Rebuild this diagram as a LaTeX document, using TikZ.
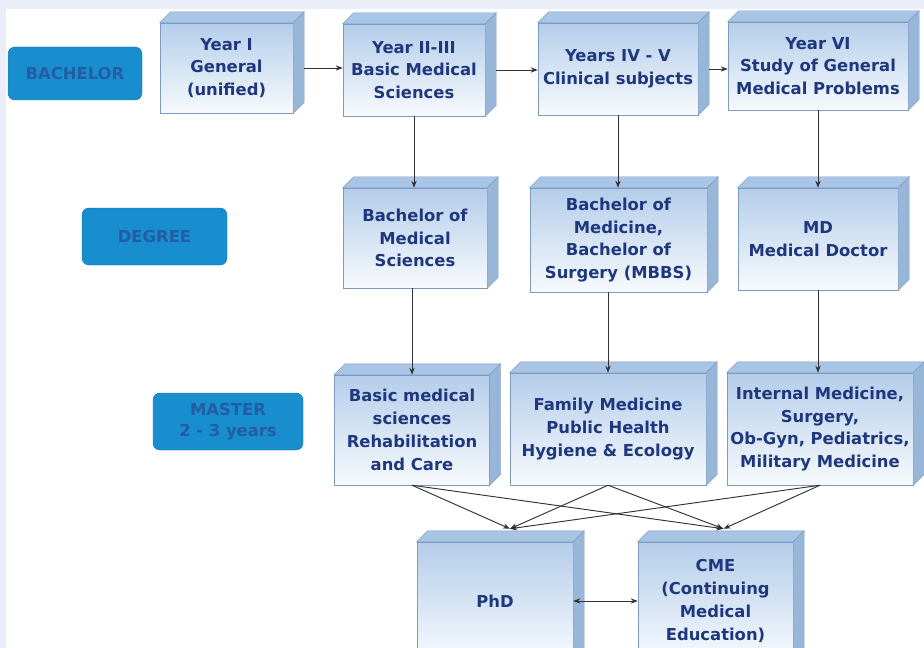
\documentclass[tikz,border=0pt]{standalone}
\usepackage{fontspec}
\setmainfont{DejaVu Sans}
\usepackage{tikz}
\usetikzlibrary{calc,arrows.meta}
\usepackage{xcolor}

\definecolor{ink}{RGB}{30,55,125}
\definecolor{facetop}{RGB}{180,205,234}
\definecolor{facebot}{RGB}{247,250,253}
\definecolor{roof}{RGB}{168,197,229}
\definecolor{flank}{RGB}{152,182,216}
\definecolor{edge}{RGB}{125,155,192}
\definecolor{tagfill}{RGB}{24,142,206}
\definecolor{tagedge}{RGB}{20,112,178}
\definecolor{tagink}{RGB}{36,92,165}
\definecolor{frame}{RGB}{233,238,248}
\definecolor{wire}{RGB}{50,50,50}

% top and right faces of a box node
\newcommand{\slabfaces}[1]{%
  \filldraw[draw=edge, fill=roof] (#1.north west) -- ++(11,-11) -- ($(#1.north east)+(11,-11)$) -- (#1.north east) -- cycle;
  \filldraw[draw=edge, fill=flank] (#1.north east) -- ++(11,-11) -- ($(#1.south east)+(11,-11)$) -- (#1.south east) -- cycle;
}

\tikzset{
  wh/.style 2 args={minimum width=#1*0.03cm, minimum height=#2*0.03cm},
  slab/.style={draw=edge, top color=facetop, bottom color=facebot, text=ink,
    font=\bfseries\fontsize{14}{19.5}\selectfont, align=center, inner sep=0pt},
  tag/.style={rounded corners=6, fill=tagfill, draw=tagedge, text=tagink,
    font=\bfseries\fontsize{14}{18}\selectfont, align=center, inner sep=0pt},
  link/.style={draw=wire, line width=0.8pt, ->},
}

\begin{document}
\begin{tikzpicture}[x=0.03cm, y=-0.03cm, >={Stealth[length=6pt,width=4.5pt]}]
  \fill[frame] (0,0) rectangle (924,648);
  \fill[white] (6,9) rectangle (924,648);
  \useasboundingbox (0,0) rectangle (924,648);

  % row labels
  \node[tag, wh={134}{53}] (bach) at (75,73.5) {BACHELOR};
  \node[tag, wh={145}{57}] (degr) at (154.5,236.5) {DEGREE};
  \node[tag, wh={150}{57}] (mast) at (228,421.5) {MASTER\\2 - 3 years};

  % bachelor years
  \node[slab, wh={133}{90}] (yr1) at (226.5,68) {Year I\\General\\(unified)};
  \slabfaces{yr1}
  \node[slab, wh={142}{92}] (yr2) at (414,70) {Year II-III\\Basic Medical\\Sciences};
  \slabfaces{yr2}
  \node[slab, wh={160}{92}] (yrc) at (618,69) {Years IV - V\\Clinical subjects};
  \slabfaces{yrc}
  \node[slab, wh={180}{88}] (yr6) at (818,66) {Year VI\\Study of General\\Medical Problems};
  \slabfaces{yr6}

  % degrees
  \node[slab, wh={144}{100}] (bms) at (415,238) {Bachelor of\\Medical\\Sciences};
  \slabfaces{bms}
  \node[slab, wh={177}{104}] (mbbs) at (618.5,240) {Bachelor of\\Medicine,\\Bachelor of\\Surgery (MBBS)};
  \slabfaces{mbbs}
  \node[slab, wh={160}{102}] (md) at (818,239) {MD\\Medical Doctor};
  \slabfaces{md}

  % master programmes
  \node[slab, wh={155}{110}] (basic) at (412,430) {Basic medical\\sciences\\Rehabilitation\\and Care};
  \slabfaces{basic}
  \node[slab, wh={196}{112}] (fam) at (608,429) {Family Medicine\\Public Health\\Hygiene \& Ecology};
  \slabfaces{fam}
  \node[slab, wh={186}{112}] (intm) at (820,429) {Internal Medicine,\\Surgery,\\Ob-Gyn, Pediatrics,\\Military Medicine};
  \slabfaces{intm}

  % postgraduate
  \node[slab, wh={156}{118}] (phd) at (495,601) {PhD};
  \slabfaces{phd}
  \node[slab, wh={155}{118}] (cme) at (715.5,601) {CME\\(Continuing\\Medical\\Education)};
  \slabfaces{cme}

  % arrows
  \draw[link] ($(yr1.east)+(11,0)$) -- (yr2.west |- yr1.east);
  \draw[link] ($(yr2.east)+(11,0)$) -- (yrc.west |- yr2.east);
  \draw[link] ($(yrc.east)+(11,0)$) -- (yr6.west |- yrc.east);
  \draw[link] (yr2.south) -- (yr2.south |- bms.north);
  \draw[link] (yrc.south) -- (yrc.south |- mbbs.north);
  \draw[link] (yr6.south) -- (yr6.south |- md.north);
  \draw[link] (bms.south -| basic.north) -- (basic.north);
  \draw[link] (mbbs.south -| fam.north) -- (fam.north);
  \draw[link] (md.south) -- (md.south |- intm.north);

  \coordinate (phdin) at ($(phd.north)+(15,-13)$);
  \coordinate (cmein) at ($(cme.north)+(8,-13)$);
  \foreach \src in {basic,fam,intm}{
    \draw[link] (\src.south) -- (phdin);
    \draw[link] (\src.south) -- (cmein);
  }
  \draw[link, <->] (phd.east) -- (cme.west);
\end{tikzpicture}
\end{document}
